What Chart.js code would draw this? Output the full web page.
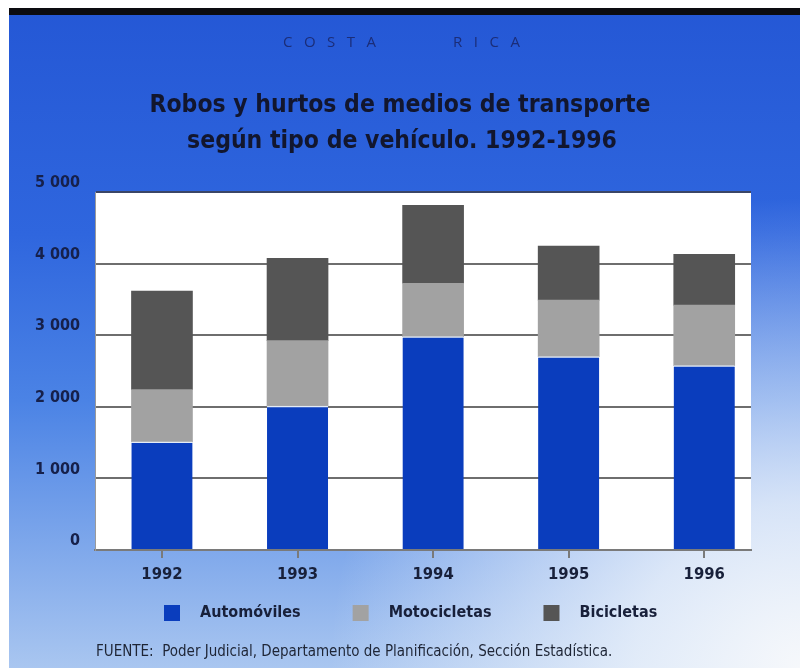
<!DOCTYPE html>
<html>
<head>
  <title>Robos y hurtos de medios de transporte</title>
  <script src="https://cdn.jsdelivr.net/npm/chart.js"></script>
  <style>
    body {
      margin: 0;
      background: #ffffff;
    }
    canvas {
      display: block;
    }
  </style>
</head>
<body>
  <canvas id="robosChart" width="800" height="668"></canvas>

  <script>
    const years = ['1992', '1993', '1994', '1995', '1996'];
    const automoviles = [1510, 2010, 2980, 2700, 2575];
    const motocicletas = [730, 915, 745, 790, 845];
    const bicicletas = [1375, 1150, 1090, 755, 710];

    const face = "'DejaVu Sans', sans-serif";
    const inkDark = '#18203a';

    // background, black strip on top and the white plot panel
    const panel = {
      id: 'panel',
      beforeDraw(chart) {
        const ctx = chart.ctx;
        const w = chart.width, h = chart.height;
        const area = chart.chartArea;

        ctx.save();
        const v = ctx.createLinearGradient(0, 0, 0, h);
        v.addColorStop(0, '#2457d5');
        v.addColorStop(0.35, '#2f66de');
        v.addColorStop(0.6, '#4b83e5');
        v.addColorStop(1, '#a9c6f0');
        ctx.fillStyle = v;
        ctx.fillRect(0, 0, w, h);

        const r = ctx.createRadialGradient(w, h, 0, w, h, 470);
        r.addColorStop(0, 'rgba(246,248,251,1)');
        r.addColorStop(0.35, 'rgba(240,245,251,0.8)');
        r.addColorStop(1, 'rgba(240,245,251,0)');
        ctx.fillStyle = r;
        ctx.fillRect(0, 0, w, h);

        ctx.fillStyle = '#ffffff';
        ctx.fillRect(0, 0, w, 8);
        ctx.fillRect(0, 0, 9, h);
        ctx.fillStyle = '#0c0c10';
        ctx.fillRect(9, 8, w - 9, 7);

        ctx.fillStyle = '#ffffff';
        ctx.fillRect(area.left, area.top, area.right - area.left, area.bottom - area.top);
        ctx.restore();
      }
    };

    // header, title, legend and source line
    const texts = {
      id: 'texts',
      afterDraw(chart) {
        const ctx = chart.ctx;
        ctx.save();

        ctx.fillStyle = '#1b2d78';
        ctx.font = "15px 'Open Sans', sans-serif";
        ctx.textAlign = 'left';
        ctx.textBaseline = 'middle';
        ctx.letterSpacing = '11.5px';
        ctx.fillText('COSTA', 283, 43);
        ctx.fillText('RICA', 453, 43);
        ctx.letterSpacing = '0px';

        ctx.fillStyle = '#12162e';
        ctx.textAlign = 'center';
        ctx.font = 'bold condensed 24.5px ' + face;
        ctx.fillText('Robos y hurtos de medios de transporte', 400, 106);
        ctx.fillText('según tipo de vehículo. 1992-1996', 402, 142);

        // legend built from the datasets
        ctx.textAlign = 'left';
        ctx.font = 'bold condensed 16px ' + face;
        let x = 164;
        chart.data.datasets.forEach(ds => {
          ctx.fillStyle = ds.backgroundColor;
          ctx.fillRect(x, 605, 16, 16);
          ctx.fillStyle = inkDark;
          ctx.fillText(ds.label, x + 36, 613);
          x += 36 + ctx.measureText(ds.label).width + 52;
        });

        ctx.font = 'condensed 15px ' + face;
        ctx.fillStyle = '#1e2535';
        ctx.fillText('FUENTE:  Poder Judicial, Departamento de Planificación, Sección Estadística.', 96, 652);
        ctx.restore();
      }
    };

    const toPoints = vals => vals.map((v, i) => ({ x: i, y: v }));

    const chart = new Chart(document.getElementById('robosChart'), {
      type: 'bar',
      data: {
        datasets: [{
          label: 'Automóviles',
          data: toPoints(automoviles),
          backgroundColor: '#0a3dbd',
          borderColor: '#e4ecf7',
          borderWidth: { top: 1.5, left: 0, right: 0, bottom: 0 },
          borderSkipped: false
        }, {
          label: 'Motocicletas',
          data: toPoints(motocicletas),
          backgroundColor: '#a2a2a2'
        }, {
          label: 'Bicicletas',
          data: toPoints(bicicletas),
          backgroundColor: '#555555'
        }]
      },
      options: {
        responsive: false,
        animation: false,
        devicePixelRatio: 1,
        barThickness: 61,
        layout: {
          padding: { top: 192, left: 0, right: 49, bottom: 78 }
        },
        plugins: {
          legend: { display: false },
          title: { display: false },
          tooltip: { enabled: false }
        },
        scales: {
          x: {
            type: 'linear',
            stacked: true,
            offset: false,
            min: -0.494,
            max: 4.345,
            afterBuildTicks: scale => {
              scale.ticks = years.map((_, i) => ({ value: i }));
            },
            afterFit: scale => { scale.height = 40; },
            ticks: {
              callback: value => years[value],
              color: inkDark,
              padding: 7,
              font: { family: face, size: 16.5, weight: 'bold condensed' }
            },
            grid: {
              offset: false,
              drawOnChartArea: false,
              drawTicks: true,
              tickLength: 8,
              color: '#7a7a7a',
              lineWidth: 2
            },
            border: { display: true, color: '#7a7a7a', width: 2 }
          },
          y: {
            stacked: true,
            min: 0,
            max: 5000,
            afterFit: scale => { scale.width = 95; },
            ticks: {
              stepSize: 1000,
              labelOffset: -9,
              padding: 15,
              color: '#16204a',
              font: { family: face, size: 16, weight: 'bold condensed' },
              callback: value => value >= 1000
                ? Math.floor(value / 1000) + ' ' + String(value % 1000).padStart(3, '0')
                : String(value)
            },
            grid: {
              drawTicks: false,
              color: ctx => ctx.tick && ctx.tick.value === 5000 ? '#3a4566' : '#6e6e6e',
              lineWidth: 2
            },
            border: { display: true, color: '#9a9a9a', width: 1 }
          }
        }
      },
      plugins: [panel, texts]
    });
  </script>
</body>
</html>
